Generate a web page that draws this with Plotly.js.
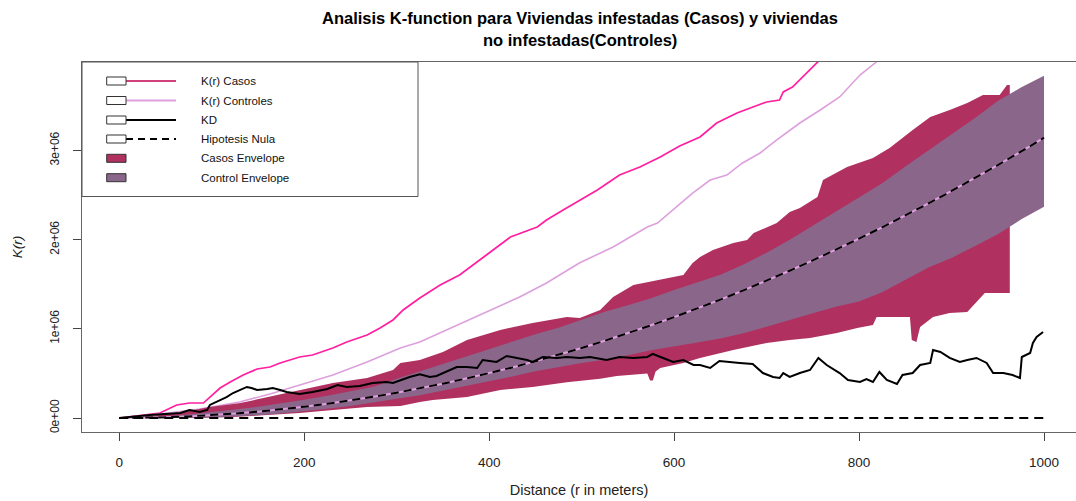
<!DOCTYPE html>
<html>
<head>
<meta charset="utf-8">
<script src="https://cdn.plot.ly/plotly-3.0.1.min.js"></script>
<style>html,body{margin:0;padding:0;background:#fff;overflow:hidden}</style>
</head>
<body>
<div id="chart" style="width:1076px;height:501px"></div>
<script>
// ---- Data ----
const casosR = [0,44,62,76,91,98,109,120,134,149,163,174,195,209,231,246,268,282,296,307,325,347,368,397,423,452,462,480,498,517,541,563,585,606,628,646,668,693,700,714,718,728,747,754,763,780];
const casosK = [0,56000,146000,168000,168000,235000,336000,404000,482000,549000,572000,617000,684000,706000,785000,852000,931000,1009000,1099000,1211000,1345000,1491000,1603000,1827000,2029000,2141000,2220000,2332000,2444000,2556000,2724000,2814000,2926000,3049000,3150000,3307000,3419000,3509000,3543000,3565000,3655000,3711000,3901000,3980000,4070000,4250000];

const controlR = [0,44,87,130,163,195,231,268,304,325,358,390,433,462,498,534,571,582,603,620,639,657,674,693,711,736,758,779,801,819,833,850];
const controlK = [0,45000,101000,179000,269000,370000,482000,628000,785000,852000,1009000,1155000,1357000,1514000,1740000,1917000,2141000,2186000,2366000,2522000,2668000,2724000,2859000,2971000,3117000,3307000,3453000,3599000,3845000,3991000,4103000,4250000];

const kdR = [0,33,66,76,87,95,98,109,116,123,130,138,143,149,160,166,174,181,195,209,225,236,246,260,274,289,296,304,311,314,325,336,343,358,365,376,387,393,408,419,430,441,447,458,473,484,498,509,527,541,556,571,577,585,599,610,621,628,639,649,657,671,685,696,707,714,718,725,736,747,756,765,779,788,801,808,815,822,830,841,847,858,866,877,880,888,898,909,917,927,938,945,956,966,974,976,985,988,992,999];
const kdK = [0,34000,56000,90000,67000,90000,146000,202000,235000,280000,314000,348000,336000,314000,325000,336000,314000,291000,269000,291000,325000,370000,348000,359000,392000,404000,392000,426000,448000,460000,490000,460000,471000,538000,572000,572000,561000,650000,628000,695000,673000,650000,628000,684000,673000,684000,673000,684000,650000,684000,673000,684000,718000,684000,628000,650000,594000,594000,561000,639000,628000,617000,605000,504000,460000,448000,504000,460000,504000,538000,673000,594000,504000,426000,404000,437000,404000,516000,426000,381000,482000,504000,594000,617000,762000,740000,673000,628000,650000,673000,617000,504000,504000,482000,448000,684000,729000,841000,908000,964000];

const theoR = [0,25,50,75,100,125,150,175,200,225,250,275,300,325,350,375,400,425,450,475,500,525,550,575,600,625,650,675,700,725,750,775,800,825,850,875,900,925,950,975,1000];
const theoK = [0,2000,8000,18000,31000,49000,71000,96000,126000,159000,196000,238000,283000,332000,385000,442000,503000,567000,636000,709000,785000,866000,950000,1039000,1131000,1227000,1327000,1431000,1539000,1651000,1767000,1887000,2011000,2138000,2270000,2405000,2545000,2688000,2835000,2986000,3142000];

const ctlEnvHi = [0,7600,19000,40000,65000,94000,127000,163000,204000,249000,297000,350000,440000,523000,609000,689000,772000,858000,939000,1012000,1099000,1191000,1264000,1342000,1434000,1518000,1607000,1722000,1853000,1999000,2159000,2313000,2471000,2631000,2819000,2999000,3173000,3361000,3553000,3704000,3837000];
const ctlEnvLo = [0,0,1000,1000,9000,15500,31000,51000,75000,103000,134000,171000,216000,254000,307000,364000,413000,466000,524000,574000,617000,653000,703000,759000,806000,846000,890000,949000,1023000,1102000,1173000,1248000,1305000,1409000,1552000,1687000,1794000,1926000,2061000,2224000,2368000];

const casEnvHiR = [0,33,69,98,131,160,195,231,268,296,304,325,350,376,412,447,484,498,520,534,556,585,610,620,628,642,664,679,686,711,725,736,744,755,761,787,815,833,858,877,898,917,934,952,960,963];
const casEnvHiK = [0,22000,67000,123000,168000,235000,314000,392000,448000,538000,617000,650000,740000,874000,987000,1065000,1132000,1121000,1211000,1357000,1491000,1547000,1603000,1738000,1805000,1883000,1962000,1996000,2074000,2186000,2309000,2354000,2410000,2478000,2668000,2814000,2915000,3027000,3229000,3375000,3453000,3531000,3621000,3621000,3733000,3733000];
const casEnvLoR = [0,87,123,160,195,231,268,304,325,339,376,412,447,484,520,538,571,574,577,580,585,610,628,664,700,725,747,776,798,815,819,855,857,862,866,880,898,917,936,963];
const casEnvLoK = [0,0,11000,34000,56000,90000,123000,135000,179000,202000,235000,314000,348000,400000,440000,470000,500000,420000,420000,520000,560000,617000,673000,762000,841000,875000,897000,953000,1009000,1043000,1132000,1132000,875000,852000,1020000,1132000,1177000,1188000,1401000,1401000];

const nullR = [0, 1000];
const nullK = [0, 0];

const xTicks = [0,200,400,600,800,1000];
const yTicks = [0,1000000,2000000,3000000];
const yTickText = ['0e+00','1e+06','2e+06','3e+06'];

const titleLines = ['Analisis K-function para Viviendas infestadas (Casos) y viviendas', 'no infestadas(Controles)'];
const legendLabels = ['K(r) Casos','K(r) Controles','KD','Hipotesis Nula','Casos Envelope','Control Envelope'];

// ---- Colours ----
const C_CASOS = '#FF1FA0', C_CTRL = '#DDA0DD', C_ENV_CAS = '#B03060', C_ENV_CTL = '#8B668B';
const FONT = 'Liberation Sans, Arial, sans-serif';

// ---- Traces ----
const poly = (xa, ya, xb, yb) => ({x: xa.concat(xb.slice().reverse()), y: ya.concat(yb.slice().reverse())});
const pc = poly(casEnvHiR, casEnvHiK, casEnvLoR, casEnvLoK);
const pp = poly(theoR, ctlEnvHi, theoR, ctlEnvLo);

const traces = [
  {x: casosR, y: casosK, mode: 'lines', line: {color: C_CASOS, width: 1.7}, hoverinfo: 'skip'},
  {x: controlR, y: controlK, mode: 'lines', line: {color: C_CTRL, width: 1.6}, hoverinfo: 'skip'},
  {x: pc.x, y: pc.y, mode: 'lines', fill: 'toself', fillcolor: C_ENV_CAS, line: {width: 0, color: C_ENV_CAS}, hoverinfo: 'skip'},
  {x: pp.x, y: pp.y, mode: 'lines', fill: 'toself', fillcolor: C_ENV_CTL, line: {width: 0, color: C_ENV_CTL}, hoverinfo: 'skip'},
  {x: theoR, y: theoK, mode: 'lines', line: {color: C_CTRL, width: 2}, hoverinfo: 'skip'},
  {x: theoR, y: theoK, mode: 'lines', line: {color: '#000', width: 2, dash: '8px,5px'}, hoverinfo: 'skip'},
  {x: nullR, y: nullK, mode: 'lines', line: {color: '#000', width: 2, dash: '9px,6px'}, hoverinfo: 'skip'},
  {x: kdR, y: kdK, mode: 'lines', line: {color: '#000', width: 2}, hoverinfo: 'skip'}
];

// ---- Layout geometry (pixels) ----
const L = 82, T = 62, W = 994, H = 370;
const px = p => (p - L) / W;
const py = p => (T + H - p) / H;

const shapes = [];
const annotations = [];
// title lines
annotations.push({xref: 'paper', yref: 'paper', x: px(580), y: py(18), xanchor: 'center', yanchor: 'middle', showarrow: false,
  text: '<b>' + titleLines[0] + '</b>', font: {family: FONT, size: 16.5, color: '#000'}});
annotations.push({xref: 'paper', yref: 'paper', x: px(580), y: py(40), xanchor: 'center', yanchor: 'middle', showarrow: false,
  text: '<b>' + titleLines[1] + '</b>', font: {family: FONT, size: 16.5, color: '#000'}});
// legend box
shapes.push({type: 'rect', xref: 'paper', yref: 'paper', x0: px(82), x1: px(418), y0: py(62), y1: py(196.5),
  line: {color: '#555', width: 1}, fillcolor: '#fff', layer: 'above'});
const rowY = [81, 100.5, 120, 139, 158.3, 177.7];
const legLine = [
  {color: '#D0407A', dash: 'solid'},
  {color: C_CTRL, dash: 'solid'},
  {color: '#000', dash: 'solid'},
  {color: '#000', dash: '7px,5px'}
];
rowY.forEach((y, i) => {
  if (i < 4) {
    shapes.push({type: 'line', xref: 'paper', yref: 'paper', x0: px(126), x1: px(176), y0: py(y), y1: py(y),
      line: {color: legLine[i].color, width: 1.8, dash: legLine[i].dash}, layer: 'above'});
    shapes.push({type: 'rect', xref: 'paper', yref: 'paper', x0: px(106.7), x1: px(126), y0: py(y - 4), y1: py(y + 4),
      line: {color: '#333', width: 1}, fillcolor: '#fff', layer: 'above'});
  } else {
    shapes.push({type: 'rect', xref: 'paper', yref: 'paper', x0: px(106.7), x1: px(126), y0: py(y - 4), y1: py(y + 4),
      line: {color: '#333', width: 1}, fillcolor: i === 4 ? C_ENV_CAS : C_ENV_CTL, layer: 'above'});
  }
  annotations.push({xref: 'paper', yref: 'paper', x: px(199), y: py(y), xanchor: 'left', yanchor: 'middle',
    text: legendLabels[i], showarrow: false, font: {family: FONT, size: 11.5, color: '#111'}});
});

const layout = {
  width: 1076, height: 501,
  margin: {l: L, r: 0, t: T, b: 501 - T - H, pad: 0},
  paper_bgcolor: '#fff', plot_bgcolor: '#fff',
  showlegend: false,
  font: {family: FONT, color: '#111'},
  xaxis: {
    range: [-40.3, 1034.6], autorange: false,
    tickmode: 'array', tickvals: xTicks, ticktext: xTicks.map(String),
    ticks: 'outside', ticklen: 8, tickwidth: 1, tickcolor: '#444',
    tickfont: {size: 13.5, color: '#222'}, ticklabelstandoff: 10,
    showgrid: false, zeroline: false,
    showline: true, mirror: true, linecolor: '#666', linewidth: 1,
    title: {text: 'Distance (r in meters)', font: {size: 14.5, color: '#222'}, standoff: 15}
  },
  yaxis: {
    range: [-157000, 3991000], autorange: false,
    tickmode: 'array', tickvals: yTicks, ticktext: yTickText,
    ticks: 'outside', ticklen: 8, tickwidth: 1, tickcolor: '#444', tickangle: -90,
    tickfont: {size: 12, color: '#222'}, ticklabelstandoff: 9,
    showgrid: false, zeroline: false,
    showline: true, mirror: false, linecolor: '#666', linewidth: 1,
    title: {text: '<i>K(r)</i>', font: {size: 13.5, color: '#222'}, standoff: 22}
  },
  shapes: shapes,
  annotations: annotations
};

Plotly.newPlot('chart', traces, layout, {displayModeBar: false, staticPlot: true});
</script>
</body>
</html>
